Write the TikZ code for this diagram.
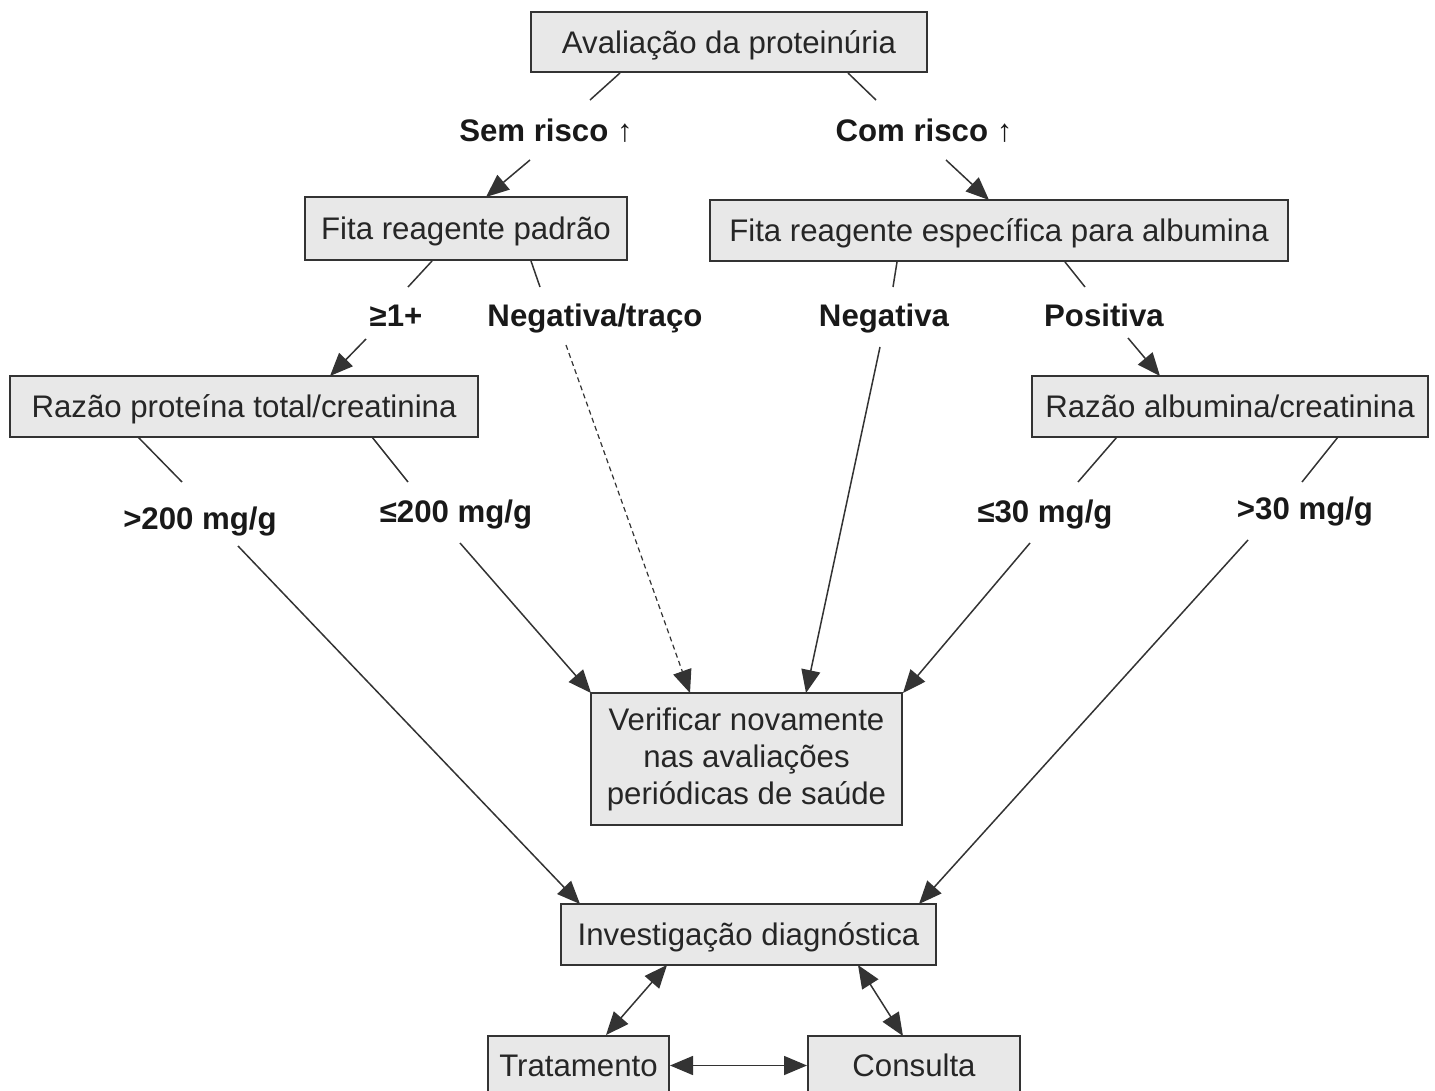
\documentclass[tikz,border=0pt]{standalone}
\usepackage{fontspec}
\setmainfont{Liberation Sans}
\usetikzlibrary{arrows.meta}
\begin{document}
\begin{tikzpicture}[x=0.5pt,y=-0.5pt,
  box/.style={draw=black!80, line width=1pt, fill=black!9, text=black!85,
    inner sep=0pt, align=center, font=\fontsize{15.6}{18.5}\selectfont},
  onebox/.style={box, text height=11.2pt, text depth=0pt},
  lbl/.style={inner sep=0pt, text=black!90, text height=11.2pt, text depth=0pt,
    font=\fontsize{15.6}{18.5}\selectfont\bfseries},
  link/.style={draw=black!80, line width=0.75pt},
  tip/.tip={Triangle[length=11.5pt,width=9.5pt]},
  arr/.style={link, -tip},
  darr/.style={link, tip-tip},
  dotted link/.style={arr, line width=0.6pt, dash pattern=on 2.5pt off 1.8pt},
]
\useasboundingbox (0,0) rectangle (1435,1091);
\clip (0,0) rectangle (1435,1091);

% boxes
\node[onebox, minimum width=198pt, minimum height=30pt]   (aval)  at (729,42)    {Avaliação da proteinúria};
\node[onebox, minimum width=161pt, minimum height=31.5pt] (fitaP) at (466,228.5) {Fita reagente padrão};
\node[onebox, minimum width=289pt, minimum height=30.5pt] (fitaA) at (999,230.5) {Fita reagente específica para albumina};
\node[onebox, minimum width=234pt, minimum height=30.5pt] (razP)  at (244,406.5) {Razão proteína total/creatinina};
\node[onebox, minimum width=198pt, minimum height=30.5pt] (razA)  at (1230,406.5) {Razão albumina/creatinina};
\node[box, minimum width=155.5pt, minimum height=66pt]    (verif) at (746.5,759) {Verificar novamente\\nas avaliações\\periódicas de saúde};
\node[onebox, minimum width=187.5pt, minimum height=30.5pt] (inv)  at (748.5,934.5) {Investigação diagnóstica};
\node[onebox, minimum width=90.5pt, minimum height=30pt]  (trat)  at (578.5,1065.5) {Tratamento};
\node[onebox, minimum width=106pt, minimum height=30pt]   (cons)  at (914,1065.5) {Consulta};

% branch labels
\node[lbl] (sem)   at (546,130) {Sem risco ↑};
\node[lbl] (com)   at (924,130) {Com risco ↑};
\node[lbl] (ge1)   at (396,315) {≥1+};
\node[lbl] (negtr) at (595,315) {Negativa/traço};
\node[lbl] (neg)   at (884,315) {Negativa};
\node[lbl] (pos)   at (1104,315) {Positiva};
\node[lbl] (gt200) at (200,518) {>200 mg/g};
\node[lbl] (le200) at (456,511) {≤200 mg/g};
\node[lbl] (le30)  at (1045,511) {≤30 mg/g};
\node[lbl] (gt30)  at (1305,508) {>30 mg/g};

% connector end points
\coordinate (aval-l)  at (620,73);   \coordinate (sem-a)   at (590,100);
\coordinate (sem-b)   at (530,160);  \coordinate (fitaP-t) at (486,197);
\coordinate (aval-r)  at (848,73);   \coordinate (com-a)   at (876,100);
\coordinate (com-b)   at (946,160);  \coordinate (fitaA-t) at (989,200);
\coordinate (fitaP-l) at (432,261);  \coordinate (ge1-a)   at (408,287);
\coordinate (ge1-b)   at (366,339);  \coordinate (razP-t)  at (330,376);
\coordinate (fitaP-r) at (531,261);  \coordinate (negtr-a) at (540,287);
\coordinate (negtr-b) at (566,345);  \coordinate (verif-2) at (690,693);
\coordinate (fitaA-l) at (897,262);  \coordinate (neg-a)   at (893,287);
\coordinate (neg-b)   at (880,347);  \coordinate (verif-3) at (806,693);
\coordinate (fitaA-r) at (1065,262); \coordinate (pos-a)   at (1085,287);
\coordinate (pos-b)   at (1128,338); \coordinate (razA-t)  at (1160,376);
\coordinate (razP-l)  at (138,437);  \coordinate (gt200-a) at (182,482);
\coordinate (gt200-b) at (238,546);  \coordinate (inv-l)   at (580,904);
\coordinate (razP-r)  at (372,437);  \coordinate (le200-a) at (408,482);
\coordinate (le200-b) at (460,543);  \coordinate (verif-1) at (591,693);
\coordinate (razA-l)  at (1117,437); \coordinate (le30-a)  at (1078,482);
\coordinate (le30-b)  at (1030,543); \coordinate (verif-4) at (903,693);
\coordinate (razA-r)  at (1338,437); \coordinate (gt30-a)  at (1302,482);
\coordinate (gt30-b)  at (1248,540); \coordinate (inv-r)   at (919,904);
\coordinate (inv-bl)  at (667,965);  \coordinate (trat-t)  at (606,1035);
\coordinate (inv-br)  at (858,965);  \coordinate (cons-t)  at (903,1036);

% connectors
\draw[link] (aval-l) -- (sem-a);   \draw[arr] (sem-b) -- (fitaP-t);
\draw[link] (aval-r) -- (com-a);   \draw[arr] (com-b) -- (fitaA-t);
\draw[link] (fitaP-l) -- (ge1-a);  \draw[arr] (ge1-b) -- (razP-t);
\draw[link] (fitaP-r) -- (negtr-a); \draw[dotted link] (negtr-b) -- (verif-2);
\draw[link] (fitaA-l) -- (neg-a);  \draw[arr] (neg-b) -- (verif-3);
\draw[link] (fitaA-r) -- (pos-a);  \draw[arr] (pos-b) -- (razA-t);
\draw[link] (razP-l) -- (gt200-a); \draw[arr] (gt200-b) -- (inv-l);
\draw[link] (razP-r) -- (le200-a); \draw[arr] (le200-b) -- (verif-1);
\draw[link] (razA-l) -- (le30-a);  \draw[arr] (le30-b) -- (verif-4);
\draw[link] (razA-r) -- (gt30-a);  \draw[arr] (gt30-b) -- (inv-r);
\draw[darr] (inv-bl) -- (trat-t);
\draw[darr] (inv-br) -- (cons-t);
\draw[darr] (trat) -- (cons);
\end{tikzpicture}
\end{document}
